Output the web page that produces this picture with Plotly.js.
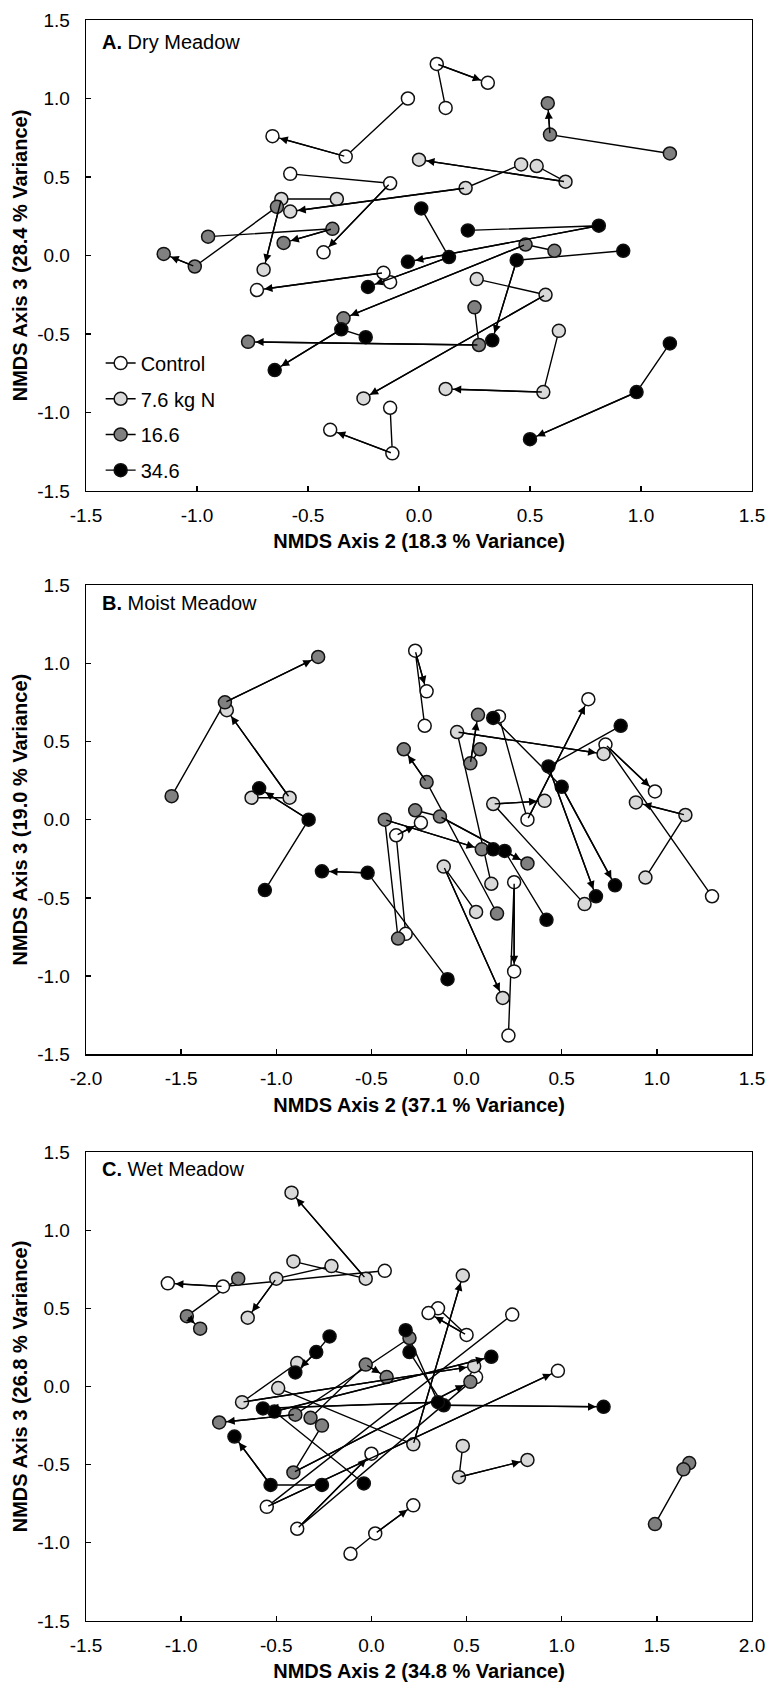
<!DOCTYPE html>
<html><head><meta charset="utf-8">
<script src="https://cdn.plot.ly/plotly-3.0.1.min.js"></script>
<style>html,body{margin:0;padding:0;background:#fff}#chart{width:768px;height:1684px}</style>
</head><body><div id="chart"></div>
<script>
// ---------- categories ----------
const treatments = ['Control', '7.6 kg N', '16.6', '34.6'];
const fillColors = ['#ffffff', '#d9d9d9', '#808080', '#000000'];

// ---------- A. Dry Meadow (each row = one plot: start, middle, end) ----------
const dryControlX = [[0.12, 0.08, 0.31], [-0.05, -0.33, -0.66], [-0.58, -0.13, -0.43], [-0.13, -0.16, -0.73], [-0.13, -0.12, -0.40]];
const dryControlY = [[0.94, 1.22, 1.10], [1.00, 0.63, 0.76], [0.52, 0.46, 0.02], [-0.17, -0.11, -0.22], [-0.97, -1.26, -1.11]];
const dryN76X = [[0.53, 0.66, 0.00], [0.46, 0.21, -0.58], [-0.37, -0.62, -0.70], [0.26, 0.57, -0.25], [0.63, 0.56, 0.12]];
const dryN76Y = [[0.57, 0.47, 0.61], [0.58, 0.43, 0.28], [0.36, 0.36, -0.09], [-0.15, -0.25, -0.91], [-0.48, -0.87, -0.85]];
const dryN166X = [[1.13, 0.59, 0.58], [0.61, 0.48, -0.34], [0.25, 0.27, -0.77], [-0.95, -0.39, -0.61], [-0.64, -1.01, -1.15]];
const dryN166Y = [[0.65, 0.77, 0.97], [0.03, 0.07, -0.40], [-0.33, -0.57, -0.55], [0.12, 0.17, 0.08], [0.31, -0.07, 0.01]];
const dryN346X = [[1.13, 0.98, 0.50], [0.92, 0.44, 0.33], [-0.24, -0.35, -0.65], [0.01, 0.135, -0.23], [0.22, 0.81, -0.05]];
const dryN346Y = [[-0.56, -0.87, -1.17], [0.03, -0.03, -0.54], [-0.52, -0.47, -0.73], [0.30, -0.01, -0.20], [0.16, 0.19, -0.04]];

// ---------- B. Moist Meadow ----------
const moistControlX = [[-0.22, -0.27, -0.21], [0.17, 0.32, 0.64], [1.29, 0.73, 0.99], [0.22, 0.25, 0.25], [-0.32, -0.37, -0.24]];
const moistControlY = [[0.60, 1.08, 0.82], [0.66, 0.00, 0.77], [-0.49, 0.48, 0.18], [-1.38, -0.40, -0.97], [-0.73, -0.10, -0.02]];
const moistN76X = [[-1.13, -0.93, -1.26], [0.94, 1.15, 0.89], [0.13, -0.05, 0.72], [0.62, 0.14, 0.41], [0.05, -0.12, 0.19]];
const moistN76Y = [[0.14, 0.14, 0.70], [-0.37, 0.03, 0.11], [-0.41, 0.56, 0.42], [-0.54, 0.10, 0.12], [-0.59, -0.30, -1.14]];
const moistN166X = [[-1.55, -1.27, -0.78], [0.07, 0.02, 0.06], [-0.36, -0.43, 0.08], [0.16, -0.21, -0.33], [-0.27, -0.14, 0.32]];
const moistN166Y = [[0.15, 0.75, 1.04], [0.45, 0.36, 0.67], [-0.76, 0.00, -0.19], [-0.60, 0.24, 0.45], [0.06, 0.02, -0.28]];
const moistN346X = [[-1.06, -0.83, -1.09], [-0.10, -0.52, -0.76], [0.81, 0.43, 0.68], [0.14, 0.50, 0.78], [0.42, 0.20, 0.14]];
const moistN346Y = [[-0.45, 0.00, 0.20], [-1.02, -0.34, -0.33], [0.60, 0.34, -0.49], [0.65, 0.21, -0.42], [-0.64, -0.20, -0.19]];

// ---------- C. Wet Meadow ----------
const wetControlX = [[0.07, -0.78, -1.07], [0.35, 0.50, 0.30], [0.74, -0.55, 0.98], [0.55, -0.39, 0.00], [-0.11, 0.02, 0.22]];
const wetControlY = [[0.74, 0.64, 0.66], [0.50, 0.33, 0.47], [0.46, -0.77, 0.10], [0.06, -0.91, -0.43], [-1.07, -0.94, -0.76]];
const wetN76X = [[-0.41, -0.03, -0.42], [-0.21, -0.50, -0.65], [-0.49, 0.22, 0.48], [-0.39, -0.68, 0.54], [0.48, 0.46, 0.82]];
const wetN76Y = [[0.80, 0.69, 1.24], [0.77, 0.69, 0.44], [-0.01, -0.37, 0.71], [0.15, -0.10, 0.13], [-0.38, -0.58, -0.47]];
const wetN166X = [[-0.70, -0.97, -0.90], [1.49, 1.67, 1.64], [-0.26, -0.41, 0.52], [0.20, -0.40, -0.80], [-0.32, -0.03, 0.08]];
const wetN166Y = [[0.69, 0.45, 0.37], [-0.88, -0.49, -0.53], [-0.25, -0.55, 0.03], [0.31, -0.18, -0.23], [-0.20, 0.14, 0.06]];
const wetN346X = [[-0.22, -0.29, -0.40], [-0.26, -0.53, -0.72], [0.20, 0.38, 1.22], [-0.04, -0.51, 0.63], [0.18, 0.35, -0.57]];
const wetN346Y = [[0.32, 0.22, 0.09], [-0.63, -0.63, -0.32], [0.22, -0.12, -0.13], [-0.62, -0.16, 0.19], [0.36, -0.10, -0.14]];

// ---------- tick labels ----------
const yTickVals = [-1.5, -1.0, -0.5, 0.0, 0.5, 1.0, 1.5];
const yTickText = ['-1.5', '-1.0', '-0.5', '0.0', '0.5', '1.0', '1.5'];
const xTickValsA = [-1.5, -1.0, -0.5, 0.0, 0.5, 1.0, 1.5];
const xTickTextA = ['-1.5', '-1.0', '-0.5', '0.0', '0.5', '1.0', '1.5'];
const xTickValsB = [-2.0, -1.5, -1.0, -0.5, 0.0, 0.5, 1.0, 1.5];
const xTickTextB = ['-2.0', '-1.5', '-1.0', '-0.5', '0.0', '0.5', '1.0', '1.5'];
const xTickValsC = [-1.5, -1.0, -0.5, 0.0, 0.5, 1.0, 1.5, 2.0];
const xTickTextC = ['-1.5', '-1.0', '-0.5', '0.0', '0.5', '1.0', '1.5', '2.0'];

const panelLabels = ['<b>A.</b> Dry Meadow', '<b>B.</b> Moist Meadow', '<b>C.</b> Wet Meadow'];
const xTitles = ['NMDS Axis 2 (18.3 % Variance)', 'NMDS Axis 2 (37.1 % Variance)', 'NMDS Axis 2 (34.8 % Variance)'];
const yTitles = ['NMDS Axis 3 (28.4 % Variance)', 'NMDS Axis 3 (19.0 % Variance)', 'NMDS Axis 3 (26.8 % Variance)'];

const panels = [
  { xs: [dryControlX, dryN76X, dryN166X, dryN346X], ys: [dryControlY, dryN76Y, dryN166Y, dryN346Y], xa: 'x', ya: 'y' },
  { xs: [moistControlX, moistN76X, moistN166X, moistN346X], ys: [moistControlY, moistN76Y, moistN166Y, moistN346Y], xa: 'x2', ya: 'y2' },
  { xs: [wetControlX, wetN76X, wetN166X, wetN346X], ys: [wetControlY, wetN76Y, wetN166Y, wetN346Y], xa: 'x3', ya: 'y3' }
];

const FONT = 'Liberation Sans, Arial, Helvetica, sans-serif';
const LW = 1.4;
const MS = 13;

const lineTraces = [], markerTraces = [], annotations = [];
panels.forEach(p => {
  for (let t = 0; t < treatments.length; t++) {
    const lx = [], ly = [], mx = [], my = [];
    p.xs[t].forEach((row, i) => {
      const yr = p.ys[t][i];
      row.forEach((v, j) => { lx.push(v); ly.push(yr[j]); mx.push(v); my.push(yr[j]); });
      lx.push(null); ly.push(null);
      annotations.push({
        x: row[2], y: yr[2], ax: row[1], ay: yr[1],
        xref: p.xa, yref: p.ya, axref: p.xa, ayref: p.ya,
        showarrow: true, arrowhead: 2, arrowsize: 1.15, arrowwidth: LW,
        arrowcolor: '#000', standoff: MS / 2 + 1, text: ''
      });
    });
    lineTraces.push({
      type: 'scatter', mode: 'lines', x: lx, y: ly, xaxis: p.xa, yaxis: p.ya,
      line: { color: '#000', width: LW }, showlegend: false, hoverinfo: 'skip'
    });
    markerTraces.push({
      type: 'scatter', mode: 'markers', x: mx, y: my, xaxis: p.xa, yaxis: p.ya,
      marker: { size: MS, color: fillColors[t], line: { color: '#111', width: 1.5 } },
      showlegend: false, name: treatments[t]
    });
  }
});

const legendTraces = treatments.map((name, t) => ({
  type: 'scatter', mode: 'lines+markers', x: [null], y: [null], xaxis: 'x', yaxis: 'y',
  name: name, legendgroup: 'g' + t, showlegend: true,
  line: { color: '#000', width: LW },
  marker: { size: MS, color: fillColors[t], line: { color: '#111', width: 1.5 } }
}));

// panel labels
const labelY = [0.9865, 0.6358, 0.2823];
panelLabels.forEach((txt, i) => annotations.push({
  text: txt, xref: 'paper', yref: 'paper', x: 0.0215, y: labelY[i],
  xanchor: 'left', yanchor: 'middle', showarrow: false, font: { family: FONT, size: 20, color: '#000' }
}));

function xAxis(vals, text, range, anchor, title) {
  return {
    domain: [0, 1], anchor: anchor, range: range, tickvals: vals, ticktext: text,
    ticks: 'inside', ticklen: 5, tickwidth: 1.3, tickcolor: '#000', ticklabelstandoff: 7,
    showline: true, mirror: true, linecolor: '#000', linewidth: 1.3,
    showgrid: false, zeroline: false, tickfont: { family: FONT, size: 19, color: '#000' },
    title: { text: '<b>' + title + '</b>', font: { family: FONT, size: 20, color: '#000' }, standoff: 9 }
  };
}
function yAxis(domain, anchor, title) {
  return {
    domain: domain, anchor: anchor, range: [-1.5, 1.5], tickvals: yTickVals, ticktext: yTickText,
    ticks: 'inside', ticklen: 5, tickwidth: 1.3, tickcolor: '#000', ticklabelstandoff: 11,
    showline: true, mirror: true, linecolor: '#000', linewidth: 1.3,
    showgrid: false, zeroline: false, tickfont: { family: FONT, size: 19, color: '#000' },
    title: { text: '<b>' + title + '</b>', font: { family: FONT, size: 20, color: '#000' }, standoff: 4 }
  };
}

const layout = {
  width: 768, height: 1684,
  margin: { l: 86, r: 16, t: 20, b: 63 },
  paper_bgcolor: '#fff', plot_bgcolor: '#fff',
  font: { family: FONT, color: '#000' },
  showlegend: true,
  legend: {
    x: 0.022, y: 0.7979, xanchor: 'left', yanchor: 'top',
    bgcolor: 'rgba(0,0,0,0)', font: { family: FONT, size: 20, color: '#000' },
    traceorder: 'grouped', tracegroupgap: 6.7, itemwidth: 30
  },
  xaxis: xAxis(xTickValsA, xTickTextA, [-1.5, 1.5], 'y', xTitles[0]),
  yaxis: yAxis([0.7058, 1], 'x', yTitles[0]),
  xaxis2: xAxis(xTickValsB, xTickTextB, [-2.0, 1.5], 'y2', xTitles[1]),
  yaxis2: yAxis([0.35397, 0.6471], 'x2', yTitles[1]),
  xaxis3: xAxis(xTickValsC, xTickTextC, [-1.5, 2.0], 'y3', xTitles[2]),
  yaxis3: yAxis([0, 0.29294], 'x3', yTitles[2]),
  annotations: annotations
};

Plotly.newPlot('chart', lineTraces.concat(markerTraces, legendTraces), layout, { displayModeBar: false, staticPlot: true });
</script>
</body></html>
